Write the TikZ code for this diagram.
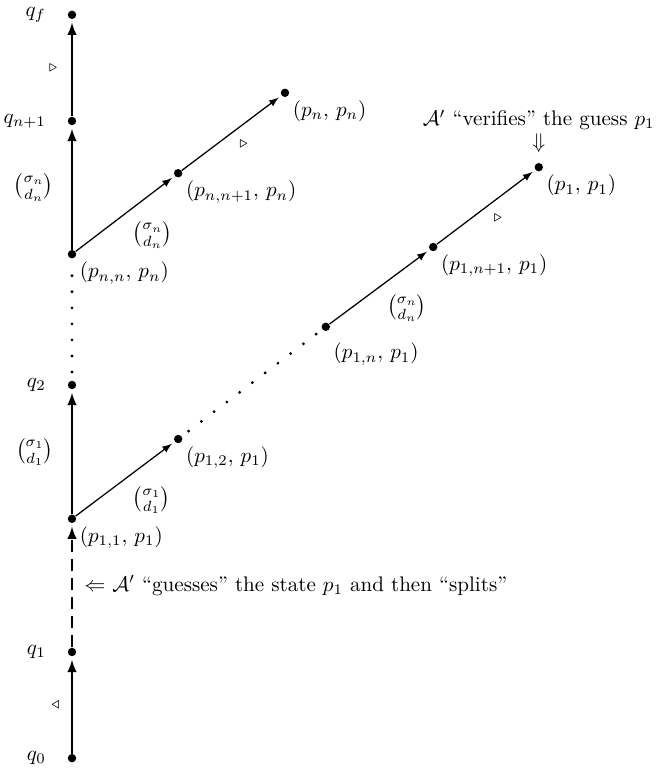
\documentclass[tikz,border=0pt]{standalone}
\usepackage{amsmath}
\usetikzlibrary{positioning}

\tikzset{
  state/.style={circle, fill, inner sep=0pt, minimum size=1.4mm},
  run/.style={-latex, line width=1pt, shorten >=1.5pt},
  branch/.style={-latex, semithick, shorten >=1.5pt},
  guess/.style={run, dashed, dash pattern=on 6pt off 3pt},
  skip/.style={line width=1.5pt, line cap=round, dash pattern=on 0pt off 7.6pt, shorten <=4pt, shorten >=3pt},
}
\newcommand{\letter}[1]{$\binom{\sigma_{#1}}{d_{#1}}$}

\begin{document}
\begin{tikzpicture}[every node/.style={font=\normalsize}, every label/.style={inner sep=2pt}]
    \useasboundingbox (0,0) rectangle (11.083,12.817);

    % Main run of A'
    \node[state, label={[xshift=-8pt]left:$q_0$}] (q0) at (1.2, 0.18) {};
    \node[state, label={[xshift=-8pt]left:$q_1$}] (q1) at (1.2, 1.95) {};
    \node[state, label=below right:{$(p_{1,1},\, p_1)$}] (p11) at (1.2, 4.17) {};
    \node[state, label={[xshift=-8pt]left:$q_2$}] (q2) at (1.2, 6.40) {};
    \node[state, label=below right:{$(p_{n,n},\, p_n)$}] (pnn) at (1.2, 8.58) {};
    \node[state, label={[xshift=-8pt]left:$q_{n+1}$}] (qn1) at (1.2, 10.80) {};
    \node[state, label={[xshift=-8pt]left:$q_f$}] (qf) at (1.2, 12.57) {};

    \draw[run] (q0) -- (q1) node[midway, left=2pt] {$\scriptstyle\triangleleft$};
    \draw[guess] (q1) -- (p11)
      node[midway, right=2pt] {$\Leftarrow$ $\mathcal{A}'$ ``guesses'' the state $p_1$ and then ``splits''};
    \draw[run] (p11) -- (q2) node[midway, left=5pt] {\letter{1}};
    \draw[skip] (q2) -- (pnn);
    \draw[run] (pnn) -- (qn1) node[midway, left=5pt] {\letter{n}};
    \draw[run] (qn1) -- (qf) node[midway, left=3pt] {$\scriptstyle\triangleright$};

    % Copy checking p_n
    \node[state, label=below right:{$(p_{n,n+1},\, p_n)$}] (pnn1) at (2.97, 9.93) {};
    \node[state, label=below right:{$(p_n,\, p_n)$}] (pn) at (4.75, 11.27) {};
    \draw[branch] (pnn) -- (pnn1) node[midway, below right] {\letter{n}};
    \draw[branch] (pnn1) -- (pn) node[midway, below right] {$\scriptstyle\triangleright$};

    % Copy checking p_1
    \node[state, label=below right:{$(p_{1,2},\, p_1)$}] (p12) at (2.97, 5.50) {};
    \node[state, label={[yshift=-4pt]below right:{$(p_{1,n},\, p_1)$}}] (p1n) at (5.43, 7.37) {};
    \node[state, label=below right:{$(p_{1,n+1},\, p_1)$}] (p1n1) at (7.22, 8.70) {};
    \node[state, label=below right:{$(p_1,\, p_1)$}] (p1) at (8.98, 10.03) {};
    \draw[branch] (p11) -- (p12) node[midway, below right] {\letter{1}};
    \draw[skip] (p12) -- (p1n);
    \draw[branch] (p1n) -- (p1n1) node[midway, below right] {\letter{n}};
    \draw[branch] (p1n1) -- (p1) node[midway, below right] {$\scriptstyle\triangleright$};

    % Verification note
    \node[above=1pt of p1, align=center] (verify)
      {$\mathcal{A}'$ ``verifies'' the guess $p_1$\\[-1pt] $\Downarrow$};
\end{tikzpicture}
\end{document}
